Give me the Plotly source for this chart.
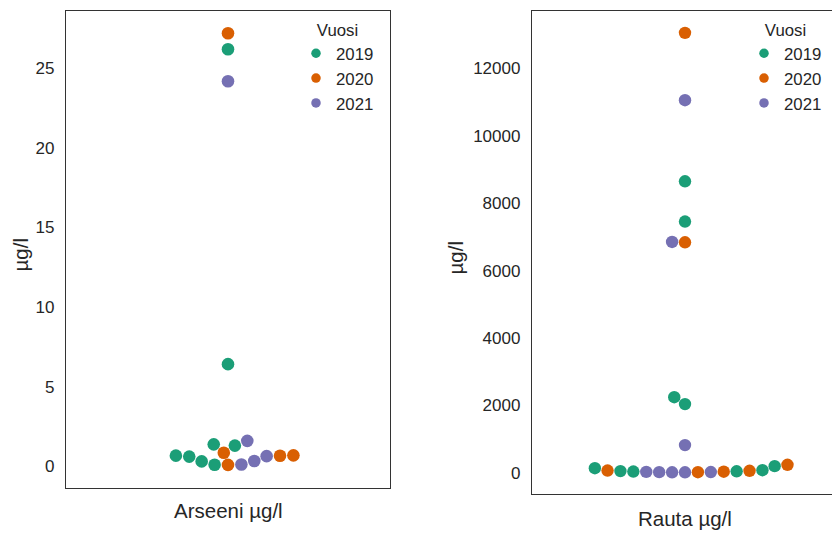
import numpy as np
import plotly.graph_objects as go

# ---------------- data ----------------
years = ["2019", "2020", "2021"]
colors = ["#1b9e77", "#d95f02", "#7570b3"]

arseeni_2019 = [26.18, 6.42, 1.39, 1.31, 0.68, 0.62, 0.32, 0.11]
arseeni_2020 = [27.18, 0.86, 0.70, 0.67, 0.10]
arseeni_2021 = [24.17, 1.61, 0.65, 0.34, 0.12]

rauta_2019 = [8650, 7455, 2242, 2039, 197, 137, 77, 51, 44, 37]
rauta_2020 = [13055, 6840, 237, 68, 59, 32, 17]
rauta_2021 = [11055, 6850, 822, 27, 23, 20, 16, 15]

panel_labels = ["Arseeni µg/l", "Rauta µg/l"]
y_label = "µg/l"
legend_title = "Vuosi"
arseeni_ticks = [0, 5, 10, 15, 20, 25]
rauta_ticks = [0, 2000, 4000, 6000, 8000, 10000, 12000]

# ---------------- layout geometry ----------------
W, H = 832, 536
FONT = "Liberation Sans, Arial, sans-serif"
TXT = "#262626"
LINE = "#333333"

L_X0, L_X1, L_Y0, L_Y1 = 66, 390, 11, 488
R_X0, R_X1, R_Y0, R_Y1 = 532, 832, 11, 494
R_FULL_W = 306  # full (cropped) width of right axes in px
L_RANGE = [-1.35, 28.58]
R_RANGE = [-629, 13703]
R_XRANGE = [-0.5, -0.5 + (R_X1 - R_X0) / R_FULL_W]
RADIUS = 6.38


def swarm_offsets(values, px_per_unit, radius=RADIUS):
    """Beeswarm (seaborn-like) horizontal offsets in px."""
    vals = np.asarray(values, float)
    ypx = vals * px_per_unit
    order = np.argsort(ypx, kind="stable")
    placed = []
    out = np.zeros(len(vals))
    for idx in order:
        y = ypx[idx]
        if not placed:
            placed.append((0.0, y))
            out[idx] = 0.0
            continue
        neigh = []
        for xj, yj in reversed(placed):
            if y - yj < 2 * radius:
                neigh.append((xj, yj))
            else:
                break
        neigh = neigh[::-1]
        cands = [0.0]
        left_first = True
        for xj, yj in neigh:
            dy = y - yj
            dx = np.sqrt(max((2 * radius) ** 2 - dy ** 2, 0)) * 1.05
            cl, cr = xj - dx, xj + dx
            cands.extend([cl, cr] if left_first else [cr, cl])
            left_first = not left_first
        cands = np.array(cands)
        cands = cands[np.argsort(np.abs(cands), kind="stable")]
        chosen = cands[0]
        if neigh:
            nx = np.array([n[0] for n in neigh])
            ny = np.array([n[1] for n in neigh])
            for c in cands:
                if np.all((nx - c) ** 2 + (ny - y) ** 2 >= (2 * radius) ** 2):
                    chosen = c
                    break
        placed.append((chosen, y))
        out[idx] = chosen
    return out


def panel_positions(series, yrange, ypx_len, xpx_per_unit, radius=RADIUS):
    allv = np.concatenate([np.asarray(s, float) for s in series])
    ppu = ypx_len / (yrange[1] - yrange[0])
    offs = swarm_offsets(allv, ppu, radius) / xpx_per_unit
    res, i = [], 0
    for s in series:
        res.append(offs[i:i + len(s)])
        i += len(s)
    return res


left_series = [arseeni_2019, arseeni_2020, arseeni_2021]
right_series = [rauta_2019, rauta_2020, rauta_2021]
left_x = panel_positions(left_series, L_RANGE, L_Y1 - L_Y0, L_X1 - L_X0)
right_x = panel_positions(right_series, R_RANGE, R_Y1 - R_Y0, R_FULL_W, 6.15)

fig = go.Figure()
for k, (yr, col) in enumerate(zip(years, colors)):
    fig.add_trace(go.Scatter(x=left_x[k], y=left_series[k], mode="markers",
                             marker=dict(size=12.6, color=col, line=dict(width=0)),
                             name=yr, showlegend=False, xaxis="x", yaxis="y",
                             hovertemplate=panel_labels[0] + " " + yr + ": %{y}<extra></extra>"))
    fig.add_trace(go.Scatter(x=right_x[k], y=right_series[k], mode="markers",
                             marker=dict(size=12.4, color=col, line=dict(width=0)),
                             name=yr, showlegend=False, xaxis="x2", yaxis="y2",
                             hovertemplate=panel_labels[1] + " " + yr + ": %{y}<extra></extra>"))
# legend entries (smaller symbols, as in the reference)
for yr, col in zip(years, colors):
    fig.add_trace(go.Scatter(x=[None], y=[None], mode="markers",
                             marker=dict(size=9.5, color=col), name=yr,
                             legend="legend", xaxis="x", yaxis="y"))
    fig.add_trace(go.Scatter(x=[None], y=[None], mode="markers",
                             marker=dict(size=9.5, color=col), name=yr,
                             legend="legend2", xaxis="x2", yaxis="y2"))

axis_common = dict(showgrid=False, zeroline=False, showline=True,
                   linecolor=LINE, linewidth=1.3, ticks="",
                   tickfont=dict(family=FONT, size=17, color=TXT))

legend_common = dict(bgcolor="rgba(0,0,0,0)", borderwidth=0,
                     font=dict(family=FONT, size=16.8, color=TXT),
                     title=dict(text=legend_title, side="top center",
                                font=dict(family=FONT, size=16.8, color=TXT)),
                     xanchor="left", yanchor="top", tracegroupgap=0)

fig.update_layout(
    width=W, height=H,
    margin=dict(l=0, r=0, t=0, b=0),
    paper_bgcolor="white", plot_bgcolor="white",
    font=dict(family=FONT, color=TXT),
    xaxis=dict(domain=[L_X0 / W, L_X1 / W], range=[-0.5, 0.5],
               showticklabels=False, mirror=True, **axis_common),
    yaxis=dict(domain=[1 - L_Y1 / H, 1 - L_Y0 / H], range=L_RANGE,
               tickvals=arseeni_ticks, tickformat="d", mirror=True,
               ticklabelstandoff=7, **axis_common),
    xaxis2=dict(domain=[R_X0 / W, R_X1 / W], range=R_XRANGE,
                showticklabels=False, mirror=True, anchor="y2", **axis_common),
    yaxis2=dict(domain=[1 - R_Y1 / H, 1 - R_Y0 / H], range=R_RANGE,
                tickvals=rauta_ticks, tickformat="d", mirror=False, anchor="x2",
                ticklabelstandoff=7, **axis_common),
    legend=dict(x=296 / W, y=1 - 14 / H, **legend_common),
    legend2=dict(x=744 / W, y=1 - 14 / H, **legend_common),
    showlegend=True,
)

fig.add_annotation(text=panel_labels[0], xref="x", yref="y domain", x=0, y=0,
                   yshift=-23, yanchor="middle", showarrow=False,
                   font=dict(family=FONT, size=20.5, color=TXT))
fig.add_annotation(text=panel_labels[1], xref="x2", yref="y2 domain", x=0, y=0,
                   yshift=-24, yanchor="middle", showarrow=False,
                   font=dict(family=FONT, size=20.5, color=TXT))
fig.add_annotation(text=y_label, xref="paper", yref="y domain", x=20 / W, y=0.5,
                   yshift=-6, textangle=-90, xanchor="center", yanchor="middle",
                   showarrow=False, font=dict(family=FONT, size=20.5, color=TXT))
fig.add_annotation(text=y_label, xref="paper", yref="y2 domain", x=455 / W, y=0.5,
                   yshift=-6, textangle=-90, xanchor="center", yanchor="middle",
                   showarrow=False, font=dict(family=FONT, size=20.5, color=TXT))

fig.write_html("out.html", config={"displayModeBar": False},
               post_script="document.body.style.margin='0px';"
                           "document.body.style.padding='0px';")
